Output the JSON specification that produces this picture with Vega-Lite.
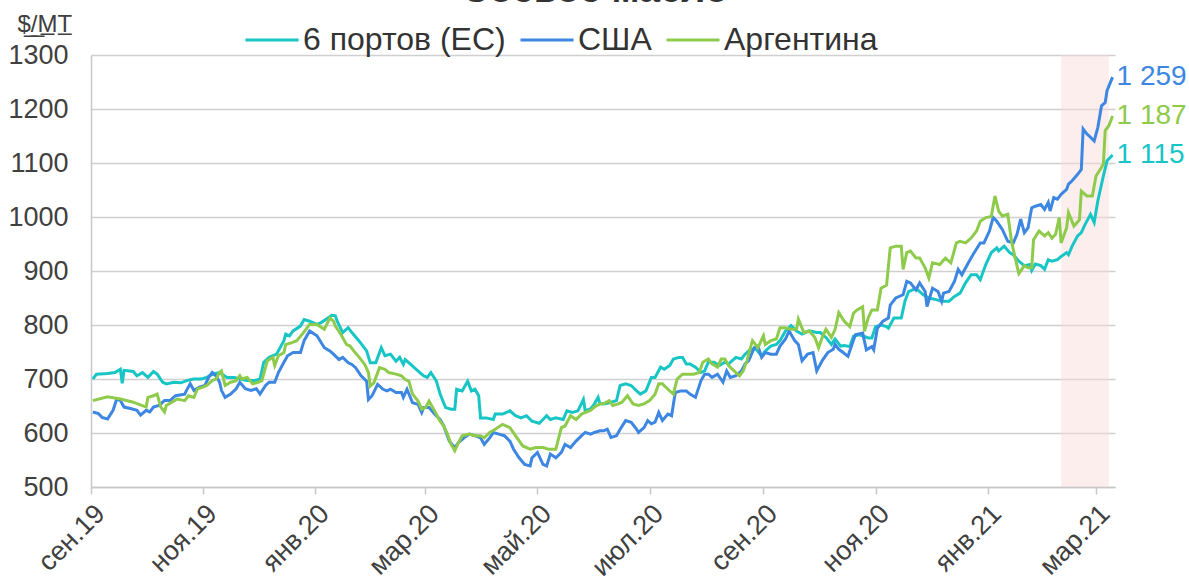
{
  "$schema": "https://vega.github.io/schema/vega-lite/v6.json",
  "width": 1024,
  "height": 432,
  "autosize": {"type": "none"},
  "padding": {"left": 91, "top": 55, "right": 74, "bottom": 96},
  "background": "white",
  "title": {"text": "Соевое масло", "fontSize": 38, "fontWeight": "bold", "color": "#333333", "anchor": "middle", "frame": "group", "dx": -8, "dy": -2, "offset": 0, "font": "Liberation Sans"},
  "config": {
    "font": "Liberation Sans",
    "view": {"stroke": null},
    "locale": {"number": {"decimal": ",", "thousands": " ", "grouping": [3], "currency": ["", ""]}}
  },
  "datasets": {
    "shade": [{"start": "2021-02-10", "end": "2021-03-08"}],
    "prices": [
{"date":"2019-09-02","series":"6 портов (ЕС)","price":700},{"date":"2019-09-04","series":"6 портов (ЕС)","price":709},{"date":"2019-09-10","series":"6 портов (ЕС)","price":710},{"date":"2019-09-14","series":"6 портов (ЕС)","price":712},{"date":"2019-09-17","series":"6 портов (ЕС)","price":718},{"date":"2019-09-18","series":"6 портов (ЕС)","price":692},{"date":"2019-09-19","series":"6 портов (ЕС)","price":716},{"date":"2019-09-24","series":"6 портов (ЕС)","price":714},{"date":"2019-09-26","series":"6 портов (ЕС)","price":706},{"date":"2019-09-29","series":"6 портов (ЕС)","price":712},
{"date":"2019-10-02","series":"6 портов (ЕС)","price":703},{"date":"2019-10-05","series":"6 портов (ЕС)","price":714},{"date":"2019-10-07","series":"6 портов (ЕС)","price":709},{"date":"2019-10-10","series":"6 портов (ЕС)","price":694},{"date":"2019-10-12","series":"6 портов (ЕС)","price":691},{"date":"2019-10-16","series":"6 портов (ЕС)","price":694},{"date":"2019-10-20","series":"6 портов (ЕС)","price":693},{"date":"2019-10-23","series":"6 портов (ЕС)","price":697},{"date":"2019-10-27","series":"6 портов (ЕС)","price":700},{"date":"2019-10-31","series":"6 портов (ЕС)","price":700},
{"date":"2019-11-03","series":"6 портов (ЕС)","price":703},{"date":"2019-11-07","series":"6 портов (ЕС)","price":710},{"date":"2019-11-10","series":"6 портов (ЕС)","price":712},{"date":"2019-11-14","series":"6 портов (ЕС)","price":703},{"date":"2019-11-18","series":"6 портов (ЕС)","price":703},{"date":"2019-11-21","series":"6 портов (ЕС)","price":700},{"date":"2019-11-25","series":"6 портов (ЕС)","price":697},{"date":"2019-11-29","series":"6 портов (ЕС)","price":697},
{"date":"2019-12-02","series":"6 портов (ЕС)","price":700},{"date":"2019-12-04","series":"6 портов (ЕС)","price":731},{"date":"2019-12-07","series":"6 портов (ЕС)","price":740},{"date":"2019-12-11","series":"6 портов (ЕС)","price":746},{"date":"2019-12-15","series":"6 портов (ЕС)","price":771},{"date":"2019-12-16","series":"6 портов (ЕС)","price":783},{"date":"2019-12-18","series":"6 портов (ЕС)","price":780},{"date":"2019-12-20","series":"6 портов (ЕС)","price":789},{"date":"2019-12-24","series":"6 портов (ЕС)","price":798},{"date":"2019-12-26","series":"6 портов (ЕС)","price":810},{"date":"2019-12-29","series":"6 портов (ЕС)","price":807},
{"date":"2020-01-02","series":"6 портов (ЕС)","price":801},{"date":"2020-01-04","series":"6 портов (ЕС)","price":804},{"date":"2020-01-08","series":"6 портов (ЕС)","price":813},{"date":"2020-01-10","series":"6 портов (ЕС)","price":818},{"date":"2020-01-12","series":"6 портов (ЕС)","price":817},{"date":"2020-01-13","series":"6 портов (ЕС)","price":807},{"date":"2020-01-16","series":"6 портов (ЕС)","price":786},{"date":"2020-01-19","series":"6 портов (ЕС)","price":795},{"date":"2020-01-21","series":"6 портов (ЕС)","price":786},{"date":"2020-01-25","series":"6 портов (ЕС)","price":770},{"date":"2020-01-29","series":"6 портов (ЕС)","price":752},{"date":"2020-01-31","series":"6 портов (ЕС)","price":730},
{"date":"2020-02-03","series":"6 портов (ЕС)","price":730},{"date":"2020-02-06","series":"6 портов (ЕС)","price":758},{"date":"2020-02-08","series":"6 портов (ЕС)","price":743},{"date":"2020-02-11","series":"6 портов (ЕС)","price":746},{"date":"2020-02-14","series":"6 портов (ЕС)","price":733},{"date":"2020-02-16","series":"6 портов (ЕС)","price":740},{"date":"2020-02-18","series":"6 портов (ЕС)","price":727},{"date":"2020-02-19","series":"6 портов (ЕС)","price":736},{"date":"2020-02-22","series":"6 портов (ЕС)","price":727},{"date":"2020-02-25","series":"6 портов (ЕС)","price":718},{"date":"2020-02-27","series":"6 портов (ЕС)","price":712},{"date":"2020-02-29","series":"6 портов (ЕС)","price":706},
{"date":"2020-03-02","series":"6 портов (ЕС)","price":703},{"date":"2020-03-04","series":"6 портов (ЕС)","price":712},{"date":"2020-03-07","series":"6 портов (ЕС)","price":696},{"date":"2020-03-09","series":"6 портов (ЕС)","price":672},{"date":"2020-03-12","series":"6 портов (ЕС)","price":647},{"date":"2020-03-15","series":"6 портов (ЕС)","price":644},{"date":"2020-03-17","series":"6 портов (ЕС)","price":644},{"date":"2020-03-18","series":"6 портов (ЕС)","price":681},{"date":"2020-03-21","series":"6 портов (ЕС)","price":678},{"date":"2020-03-24","series":"6 портов (ЕС)","price":696},{"date":"2020-03-26","series":"6 портов (ЕС)","price":678},{"date":"2020-03-28","series":"6 портов (ЕС)","price":681},{"date":"2020-03-30","series":"6 портов (ЕС)","price":669},{"date":"2020-03-31","series":"6 портов (ЕС)","price":628},
{"date":"2020-04-03","series":"6 портов (ЕС)","price":628},{"date":"2020-04-07","series":"6 портов (ЕС)","price":625},{"date":"2020-04-08","series":"6 портов (ЕС)","price":635},{"date":"2020-04-12","series":"6 портов (ЕС)","price":635},{"date":"2020-04-16","series":"6 портов (ЕС)","price":641},{"date":"2020-04-19","series":"6 портов (ЕС)","price":632},{"date":"2020-04-22","series":"6 портов (ЕС)","price":628},{"date":"2020-04-25","series":"6 портов (ЕС)","price":632},{"date":"2020-04-28","series":"6 портов (ЕС)","price":622},
{"date":"2020-05-02","series":"6 портов (ЕС)","price":618},{"date":"2020-05-04","series":"6 портов (ЕС)","price":625},{"date":"2020-05-06","series":"6 портов (ЕС)","price":632},{"date":"2020-05-08","series":"6 портов (ЕС)","price":625},{"date":"2020-05-11","series":"6 портов (ЕС)","price":628},{"date":"2020-05-15","series":"6 портов (ЕС)","price":625},{"date":"2020-05-17","series":"6 портов (ЕС)","price":641},{"date":"2020-05-20","series":"6 портов (ЕС)","price":638},{"date":"2020-05-23","series":"6 портов (ЕС)","price":641},{"date":"2020-05-26","series":"6 портов (ЕС)","price":662},{"date":"2020-05-27","series":"6 портов (ЕС)","price":641},{"date":"2020-05-30","series":"6 портов (ЕС)","price":645},
{"date":"2020-06-01","series":"6 портов (ЕС)","price":654},{"date":"2020-06-03","series":"6 портов (ЕС)","price":666},{"date":"2020-06-04","series":"6 портов (ЕС)","price":654},{"date":"2020-06-07","series":"6 портов (ЕС)","price":654},{"date":"2020-06-10","series":"6 портов (ЕС)","price":657},{"date":"2020-06-13","series":"6 портов (ЕС)","price":660},{"date":"2020-06-15","series":"6 портов (ЕС)","price":688},{"date":"2020-06-18","series":"6 портов (ЕС)","price":691},{"date":"2020-06-21","series":"6 портов (ЕС)","price":688},{"date":"2020-06-24","series":"6 портов (ЕС)","price":678},{"date":"2020-06-26","series":"6 портов (ЕС)","price":672},{"date":"2020-06-29","series":"6 портов (ЕС)","price":678},
{"date":"2020-07-02","series":"6 портов (ЕС)","price":703},{"date":"2020-07-04","series":"6 портов (ЕС)","price":703},{"date":"2020-07-07","series":"6 портов (ЕС)","price":722},{"date":"2020-07-09","series":"6 портов (ЕС)","price":718},{"date":"2020-07-12","series":"6 портов (ЕС)","price":725},{"date":"2020-07-14","series":"6 портов (ЕС)","price":737},{"date":"2020-07-17","series":"6 портов (ЕС)","price":740},{"date":"2020-07-19","series":"6 портов (ЕС)","price":740},{"date":"2020-07-21","series":"6 портов (ЕС)","price":728},{"date":"2020-07-23","series":"6 портов (ЕС)","price":728},{"date":"2020-07-26","series":"6 портов (ЕС)","price":722},{"date":"2020-07-29","series":"6 портов (ЕС)","price":712},{"date":"2020-07-31","series":"6 портов (ЕС)","price":715},
{"date":"2020-08-02","series":"6 портов (ЕС)","price":731},{"date":"2020-08-05","series":"6 портов (ЕС)","price":731},{"date":"2020-08-08","series":"6 портов (ЕС)","price":725},{"date":"2020-08-11","series":"6 портов (ЕС)","price":731},{"date":"2020-08-13","series":"6 портов (ЕС)","price":728},{"date":"2020-08-17","series":"6 портов (ЕС)","price":740},{"date":"2020-08-20","series":"6 портов (ЕС)","price":737},{"date":"2020-08-22","series":"6 портов (ЕС)","price":746},{"date":"2020-08-25","series":"6 портов (ЕС)","price":755},{"date":"2020-08-28","series":"6 портов (ЕС)","price":755},{"date":"2020-08-31","series":"6 портов (ЕС)","price":743},
{"date":"2020-09-02","series":"6 портов (ЕС)","price":752},{"date":"2020-09-05","series":"6 портов (ЕС)","price":761},{"date":"2020-09-08","series":"6 портов (ЕС)","price":764},{"date":"2020-09-10","series":"6 портов (ЕС)","price":771},{"date":"2020-09-13","series":"6 портов (ЕС)","price":789},{"date":"2020-09-16","series":"6 портов (ЕС)","price":799},{"date":"2020-09-19","series":"6 портов (ЕС)","price":789},{"date":"2020-09-22","series":"6 портов (ЕС)","price":783},{"date":"2020-09-26","series":"6 портов (ЕС)","price":789},{"date":"2020-09-30","series":"6 портов (ЕС)","price":786},
{"date":"2020-10-02","series":"6 портов (ЕС)","price":786},{"date":"2020-10-05","series":"6 портов (ЕС)","price":777},{"date":"2020-10-08","series":"6 портов (ЕС)","price":764},{"date":"2020-10-10","series":"6 портов (ЕС)","price":774},{"date":"2020-10-13","series":"6 портов (ЕС)","price":761},{"date":"2020-10-15","series":"6 портов (ЕС)","price":762},{"date":"2020-10-18","series":"6 портов (ЕС)","price":760},{"date":"2020-10-20","series":"6 портов (ЕС)","price":779},{"date":"2020-10-23","series":"6 портов (ЕС)","price":782},{"date":"2020-10-26","series":"6 портов (ЕС)","price":779},{"date":"2020-10-28","series":"6 портов (ЕС)","price":776},{"date":"2020-10-30","series":"6 портов (ЕС)","price":776},
{"date":"2020-11-01","series":"6 портов (ЕС)","price":797},{"date":"2020-11-04","series":"6 портов (ЕС)","price":800},{"date":"2020-11-07","series":"6 портов (ЕС)","price":797},{"date":"2020-11-08","series":"6 портов (ЕС)","price":794},{"date":"2020-11-11","series":"6 портов (ЕС)","price":813},{"date":"2020-11-15","series":"6 портов (ЕС)","price":813},{"date":"2020-11-17","series":"6 портов (ЕС)","price":844},{"date":"2020-11-19","series":"6 портов (ЕС)","price":862},{"date":"2020-11-23","series":"6 портов (ЕС)","price":868},{"date":"2020-11-27","series":"6 портов (ЕС)","price":856},{"date":"2020-11-30","series":"6 портов (ЕС)","price":850},
{"date":"2020-12-04","series":"6 портов (ЕС)","price":847},{"date":"2020-12-07","series":"6 портов (ЕС)","price":844},{"date":"2020-12-11","series":"6 портов (ЕС)","price":844},{"date":"2020-12-14","series":"6 портов (ЕС)","price":853},{"date":"2020-12-17","series":"6 портов (ЕС)","price":859},{"date":"2020-12-20","series":"6 портов (ЕС)","price":878},{"date":"2020-12-23","series":"6 портов (ЕС)","price":893},{"date":"2020-12-26","series":"6 портов (ЕС)","price":893},{"date":"2020-12-28","series":"6 портов (ЕС)","price":884},{"date":"2020-12-31","series":"6 портов (ЕС)","price":912},
{"date":"2021-01-03","series":"6 портов (ЕС)","price":934},{"date":"2021-01-06","series":"6 портов (ЕС)","price":943},{"date":"2021-01-07","series":"6 портов (ЕС)","price":937},{"date":"2021-01-10","series":"6 портов (ЕС)","price":946},{"date":"2021-01-13","series":"6 портов (ЕС)","price":934},{"date":"2021-01-15","series":"6 портов (ЕС)","price":930},{"date":"2021-01-18","series":"6 портов (ЕС)","price":918},{"date":"2021-01-21","series":"6 портов (ЕС)","price":910},{"date":"2021-01-24","series":"6 портов (ЕС)","price":912},{"date":"2021-01-25","series":"6 портов (ЕС)","price":901},{"date":"2021-01-27","series":"6 портов (ЕС)","price":913},{"date":"2021-01-30","series":"6 портов (ЕС)","price":910},
{"date":"2021-02-01","series":"6 портов (ЕС)","price":903},{"date":"2021-02-03","series":"6 портов (ЕС)","price":921},{"date":"2021-02-05","series":"6 портов (ЕС)","price":918},{"date":"2021-02-08","series":"6 портов (ЕС)","price":921},{"date":"2021-02-10","series":"6 портов (ЕС)","price":927},{"date":"2021-02-13","series":"6 портов (ЕС)","price":934},{"date":"2021-02-14","series":"6 портов (ЕС)","price":930},{"date":"2021-02-16","series":"6 портов (ЕС)","price":946},{"date":"2021-02-19","series":"6 портов (ЕС)","price":965},{"date":"2021-02-21","series":"6 портов (ЕС)","price":971},{"date":"2021-02-23","series":"6 портов (ЕС)","price":986},{"date":"2021-02-26","series":"6 портов (ЕС)","price":1005},{"date":"2021-02-28","series":"6 портов (ЕС)","price":990},
{"date":"2021-03-02","series":"6 портов (ЕС)","price":1030},{"date":"2021-03-05","series":"6 портов (ЕС)","price":1076},{"date":"2021-03-07","series":"6 портов (ЕС)","price":1104},{"date":"2021-03-10","series":"6 портов (ЕС)","price":1115},

{"date":"2019-09-02","series":"США","price":639},{"date":"2019-09-05","series":"США","price":636},{"date":"2019-09-07","series":"США","price":629},{"date":"2019-09-10","series":"США","price":626},{"date":"2019-09-13","series":"США","price":642},{"date":"2019-09-15","series":"США","price":663},{"date":"2019-09-17","series":"США","price":660},{"date":"2019-09-19","series":"США","price":648},{"date":"2019-09-23","series":"США","price":645},{"date":"2019-09-26","series":"США","price":642},{"date":"2019-09-28","series":"США","price":633},
{"date":"2019-10-01","series":"США","price":642},{"date":"2019-10-03","series":"США","price":639},{"date":"2019-10-05","series":"США","price":648},{"date":"2019-10-08","series":"США","price":651},{"date":"2019-10-11","series":"США","price":660},{"date":"2019-10-14","series":"США","price":660},{"date":"2019-10-17","series":"США","price":669},{"date":"2019-10-22","series":"США","price":672},{"date":"2019-10-23","series":"США","price":679},{"date":"2019-10-25","series":"США","price":691},{"date":"2019-10-27","series":"США","price":679},{"date":"2019-10-30","series":"США","price":685},
{"date":"2019-11-02","series":"США","price":688},{"date":"2019-11-04","series":"США","price":703},{"date":"2019-11-06","series":"США","price":712},{"date":"2019-11-08","series":"США","price":706},{"date":"2019-11-10","series":"США","price":694},{"date":"2019-11-11","series":"США","price":679},{"date":"2019-11-13","series":"США","price":666},{"date":"2019-11-16","series":"США","price":672},{"date":"2019-11-19","series":"США","price":682},{"date":"2019-11-21","series":"США","price":694},{"date":"2019-11-24","series":"США","price":682},{"date":"2019-11-27","series":"США","price":679},{"date":"2019-11-30","series":"США","price":682},
{"date":"2019-12-02","series":"США","price":672},{"date":"2019-12-05","series":"США","price":688},{"date":"2019-12-07","series":"США","price":694},{"date":"2019-12-10","series":"США","price":694},{"date":"2019-12-12","series":"США","price":712},{"date":"2019-12-15","series":"США","price":731},{"date":"2019-12-17","series":"США","price":743},{"date":"2019-12-20","series":"США","price":749},{"date":"2019-12-24","series":"США","price":749},{"date":"2019-12-26","series":"США","price":771},{"date":"2019-12-29","series":"США","price":789},
{"date":"2020-01-02","series":"США","price":780},{"date":"2020-01-06","series":"США","price":758},{"date":"2020-01-09","series":"США","price":752},{"date":"2020-01-11","series":"США","price":746},{"date":"2020-01-14","series":"США","price":736},{"date":"2020-01-16","series":"США","price":740},{"date":"2020-01-19","series":"США","price":730},{"date":"2020-01-21","series":"США","price":727},{"date":"2020-01-23","series":"США","price":721},{"date":"2020-01-26","series":"США","price":706},{"date":"2020-01-29","series":"США","price":696},{"date":"2020-01-30","series":"США","price":662},
{"date":"2020-02-01","series":"США","price":669},{"date":"2020-02-04","series":"США","price":690},{"date":"2020-02-07","series":"США","price":681},{"date":"2020-02-09","series":"США","price":678},{"date":"2020-02-11","series":"США","price":681},{"date":"2020-02-14","series":"США","price":675},{"date":"2020-02-17","series":"США","price":675},{"date":"2020-02-18","series":"США","price":666},{"date":"2020-02-20","series":"США","price":681},{"date":"2020-02-23","series":"США","price":656},{"date":"2020-02-26","series":"США","price":653},{"date":"2020-02-28","series":"США","price":638},{"date":"2020-02-29","series":"США","price":647},
{"date":"2020-03-03","series":"США","price":647},{"date":"2020-03-06","series":"США","price":635},{"date":"2020-03-09","series":"США","price":625},{"date":"2020-03-11","series":"США","price":613},{"date":"2020-03-14","series":"США","price":585},{"date":"2020-03-17","series":"США","price":573},{"date":"2020-03-19","series":"США","price":582},{"date":"2020-03-22","series":"США","price":591},{"date":"2020-03-25","series":"США","price":598},{"date":"2020-03-28","series":"США","price":595},{"date":"2020-03-31","series":"США","price":591},
{"date":"2020-04-02","series":"США","price":579},{"date":"2020-04-05","series":"США","price":591},{"date":"2020-04-07","series":"США","price":601},{"date":"2020-04-10","series":"США","price":598},{"date":"2020-04-13","series":"США","price":595},{"date":"2020-04-16","series":"США","price":585},{"date":"2020-04-18","series":"США","price":570},{"date":"2020-04-21","series":"США","price":554},{"date":"2020-04-24","series":"США","price":542},{"date":"2020-04-27","series":"США","price":539},{"date":"2020-04-28","series":"США","price":554},
{"date":"2020-05-01","series":"США","price":564},{"date":"2020-05-04","series":"США","price":542},{"date":"2020-05-06","series":"США","price":539},{"date":"2020-05-08","series":"США","price":561},{"date":"2020-05-11","series":"США","price":554},{"date":"2020-05-14","series":"США","price":564},{"date":"2020-05-16","series":"США","price":579},{"date":"2020-05-19","series":"США","price":573},{"date":"2020-05-22","series":"США","price":585},{"date":"2020-05-25","series":"США","price":595},{"date":"2020-05-27","series":"США","price":601},{"date":"2020-05-30","series":"США","price":598},
{"date":"2020-06-01","series":"США","price":601},{"date":"2020-06-04","series":"США","price":604},{"date":"2020-06-06","series":"США","price":604},{"date":"2020-06-08","series":"США","price":607},{"date":"2020-06-10","series":"США","price":592},{"date":"2020-06-13","series":"США","price":595},{"date":"2020-06-15","series":"США","price":607},{"date":"2020-06-18","series":"США","price":623},{"date":"2020-06-21","series":"США","price":620},{"date":"2020-06-24","series":"США","price":607},{"date":"2020-06-25","series":"США","price":601},{"date":"2020-06-28","series":"США","price":610},{"date":"2020-06-30","series":"США","price":623},
{"date":"2020-07-02","series":"США","price":617},{"date":"2020-07-04","series":"США","price":620},{"date":"2020-07-06","series":"США","price":638},{"date":"2020-07-08","series":"США","price":623},{"date":"2020-07-11","series":"США","price":635},{"date":"2020-07-13","series":"США","price":632},{"date":"2020-07-15","series":"США","price":675},{"date":"2020-07-18","series":"США","price":678},{"date":"2020-07-21","series":"США","price":678},{"date":"2020-07-23","series":"США","price":672},{"date":"2020-07-26","series":"США","price":666},{"date":"2020-07-29","series":"США","price":697},{"date":"2020-07-31","series":"США","price":709},
{"date":"2020-08-02","series":"США","price":709},{"date":"2020-08-04","series":"США","price":703},{"date":"2020-08-07","series":"США","price":709},{"date":"2020-08-10","series":"США","price":694},{"date":"2020-08-12","series":"США","price":715},{"date":"2020-08-14","series":"США","price":703},{"date":"2020-08-17","series":"США","price":706},{"date":"2020-08-20","series":"США","price":715},{"date":"2020-08-22","series":"США","price":728},{"date":"2020-08-24","series":"США","price":734},{"date":"2020-08-27","series":"США","price":758},{"date":"2020-08-29","series":"США","price":761},{"date":"2020-08-31","series":"США","price":740},
{"date":"2020-09-02","series":"США","price":749},{"date":"2020-09-05","series":"США","price":746},{"date":"2020-09-08","series":"США","price":746},{"date":"2020-09-10","series":"США","price":761},{"date":"2020-09-13","series":"США","price":774},{"date":"2020-09-15","series":"США","price":789},{"date":"2020-09-18","series":"США","price":771},{"date":"2020-09-20","series":"США","price":764},{"date":"2020-09-22","series":"США","price":734},{"date":"2020-09-25","series":"США","price":746},{"date":"2020-09-28","series":"США","price":749},{"date":"2020-09-30","series":"США","price":715},
{"date":"2020-10-03","series":"США","price":734},{"date":"2020-10-06","series":"США","price":749},{"date":"2020-10-09","series":"США","price":755},{"date":"2020-10-10","series":"США","price":764},{"date":"2020-10-12","series":"США","price":755},{"date":"2020-10-14","series":"США","price":750},{"date":"2020-10-17","series":"США","price":742},{"date":"2020-10-21","series":"США","price":782},{"date":"2020-10-25","series":"США","price":785},{"date":"2020-10-27","series":"США","price":754},{"date":"2020-10-30","series":"США","price":760},{"date":"2020-10-31","series":"США","price":754},
{"date":"2020-11-02","series":"США","price":794},{"date":"2020-11-05","series":"США","price":807},{"date":"2020-11-08","series":"США","price":813},{"date":"2020-11-09","series":"США","price":837},{"date":"2020-11-12","series":"США","price":850},{"date":"2020-11-16","series":"США","price":856},{"date":"2020-11-18","series":"США","price":881},{"date":"2020-11-20","series":"США","price":878},{"date":"2020-11-23","series":"США","price":865},{"date":"2020-11-25","series":"США","price":878},{"date":"2020-11-28","series":"США","price":862},{"date":"2020-11-29","series":"США","price":834},
{"date":"2020-12-02","series":"США","price":868},{"date":"2020-12-05","series":"США","price":862},{"date":"2020-12-07","series":"США","price":844},{"date":"2020-12-08","series":"США","price":859},{"date":"2020-12-11","series":"США","price":862},{"date":"2020-12-14","series":"США","price":881},{"date":"2020-12-16","series":"США","price":903},{"date":"2020-12-18","series":"США","price":893},{"date":"2020-12-21","series":"США","price":912},{"date":"2020-12-24","series":"США","price":930},{"date":"2020-12-28","series":"США","price":952},{"date":"2020-12-30","series":"США","price":952},
{"date":"2021-01-02","series":"США","price":974},{"date":"2021-01-04","series":"США","price":999},{"date":"2021-01-06","series":"США","price":992},{"date":"2021-01-09","series":"США","price":977},{"date":"2021-01-12","series":"США","price":955},{"date":"2021-01-15","series":"США","price":952},{"date":"2021-01-17","series":"США","price":968},{"date":"2021-01-19","series":"США","price":996},{"date":"2021-01-21","series":"США","price":971},{"date":"2021-01-23","series":"США","price":980},{"date":"2021-01-25","series":"США","price":1017},{"date":"2021-01-27","series":"США","price":1020},{"date":"2021-01-30","series":"США","price":1023},
{"date":"2021-02-01","series":"США","price":1014},{"date":"2021-02-03","series":"США","price":1027},{"date":"2021-02-04","series":"США","price":1011},{"date":"2021-02-06","series":"США","price":1036},{"date":"2021-02-08","series":"США","price":1033},{"date":"2021-02-10","series":"США","price":1042},{"date":"2021-02-13","series":"США","price":1051},{"date":"2021-02-14","series":"США","price":1061},{"date":"2021-02-16","series":"США","price":1067},{"date":"2021-02-19","series":"США","price":1079},{"date":"2021-02-21","series":"США","price":1088},{"date":"2021-02-22","series":"США","price":1163},{"date":"2021-02-24","series":"США","price":1154},{"date":"2021-02-28","series":"США","price":1141},
{"date":"2021-03-02","series":"США","price":1166},{"date":"2021-03-04","series":"США","price":1206},{"date":"2021-03-06","series":"США","price":1212},{"date":"2021-03-07","series":"США","price":1234},{"date":"2021-03-10","series":"США","price":1259},

{"date":"2019-09-02","series":"Аргентина","price":660},{"date":"2019-09-10","series":"Аргентина","price":667},{"date":"2019-09-17","series":"Аргентина","price":663},{"date":"2019-09-24","series":"Аргентина","price":657},
{"date":"2019-10-01","series":"Аргентина","price":648},{"date":"2019-10-02","series":"Аргентина","price":666},{"date":"2019-10-05","series":"Аргентина","price":669},{"date":"2019-10-07","series":"Аргентина","price":672},{"date":"2019-10-09","series":"Аргентина","price":648},{"date":"2019-10-11","series":"Аргентина","price":639},{"date":"2019-10-12","series":"Аргентина","price":651},{"date":"2019-10-15","series":"Аргентина","price":657},{"date":"2019-10-18","series":"Аргентина","price":663},{"date":"2019-10-22","series":"Аргентина","price":660},{"date":"2019-10-24","series":"Аргентина","price":669},{"date":"2019-10-27","series":"Аргентина","price":666},{"date":"2019-10-29","series":"Аргентина","price":682},
{"date":"2019-11-01","series":"Аргентина","price":685},{"date":"2019-11-03","series":"Аргентина","price":688},{"date":"2019-11-06","series":"Аргентина","price":697},{"date":"2019-11-08","series":"Аргентина","price":700},{"date":"2019-11-10","series":"Аргентина","price":712},{"date":"2019-11-11","series":"Аргентина","price":715},{"date":"2019-11-13","series":"Аргентина","price":688},{"date":"2019-11-16","series":"Аргентина","price":694},{"date":"2019-11-19","series":"Аргентина","price":697},{"date":"2019-11-21","series":"Аргентина","price":706},{"date":"2019-11-22","series":"Аргентина","price":700},{"date":"2019-11-25","series":"Аргентина","price":703},{"date":"2019-11-28","series":"Аргентина","price":691},
{"date":"2019-12-01","series":"Аргентина","price":694},{"date":"2019-12-03","series":"Аргентина","price":697},{"date":"2019-12-06","series":"Аргентина","price":734},{"date":"2019-12-09","series":"Аргентина","price":740},{"date":"2019-12-10","series":"Аргентина","price":725},{"date":"2019-12-12","series":"Аргентина","price":743},{"date":"2019-12-15","series":"Аргентина","price":749},{"date":"2019-12-16","series":"Аргентина","price":764},{"date":"2019-12-19","series":"Аргентина","price":767},{"date":"2019-12-22","series":"Аргентина","price":771},{"date":"2019-12-25","series":"Аргентина","price":783},{"date":"2019-12-29","series":"Аргентина","price":801},
{"date":"2020-01-02","series":"Аргентина","price":801},{"date":"2020-01-06","series":"Аргентина","price":792},{"date":"2020-01-09","series":"Аргентина","price":813},{"date":"2020-01-11","series":"Аргентина","price":807},{"date":"2020-01-12","series":"Аргентина","price":798},{"date":"2020-01-15","series":"Аргентина","price":783},{"date":"2020-01-18","series":"Аргентина","price":764},{"date":"2020-01-20","series":"Аргентина","price":761},{"date":"2020-01-22","series":"Аргентина","price":752},{"date":"2020-01-25","series":"Аргентина","price":740},{"date":"2020-01-28","series":"Аргентина","price":727},{"date":"2020-01-30","series":"Аргентина","price":712},{"date":"2020-01-31","series":"Аргентина","price":687},
{"date":"2020-02-02","series":"Аргентина","price":693},{"date":"2020-02-05","series":"Аргентина","price":721},{"date":"2020-02-08","series":"Аргентина","price":718},{"date":"2020-02-10","series":"Аргентина","price":712},{"date":"2020-02-14","series":"Аргентина","price":709},{"date":"2020-02-17","series":"Аргентина","price":706},{"date":"2020-02-19","series":"Аргентина","price":699},{"date":"2020-02-21","series":"Аргентина","price":696},{"date":"2020-02-23","series":"Аргентина","price":672},{"date":"2020-02-26","series":"Аргентина","price":659},{"date":"2020-02-28","series":"Аргентина","price":644},
{"date":"2020-03-01","series":"Аргентина","price":647},{"date":"2020-03-03","series":"Аргентина","price":659},{"date":"2020-03-06","series":"Аргентина","price":641},{"date":"2020-03-09","series":"Аргентина","price":622},{"date":"2020-03-11","series":"Аргентина","price":613},{"date":"2020-03-13","series":"Аргентина","price":598},{"date":"2020-03-15","series":"Аргентина","price":579},{"date":"2020-03-17","series":"Аргентина","price":567},{"date":"2020-03-19","series":"Аргентина","price":582},{"date":"2020-03-21","series":"Аргентина","price":595},{"date":"2020-03-25","series":"Аргентина","price":598},{"date":"2020-03-28","series":"Аргентина","price":595},{"date":"2020-03-31","series":"Аргентина","price":595},
{"date":"2020-04-02","series":"Аргентина","price":591},{"date":"2020-04-05","series":"Аргентина","price":601},{"date":"2020-04-08","series":"Аргентина","price":607},{"date":"2020-04-12","series":"Аргентина","price":616},{"date":"2020-04-16","series":"Аргентина","price":610},{"date":"2020-04-19","series":"Аргентина","price":595},{"date":"2020-04-23","series":"Аргентина","price":576},{"date":"2020-04-27","series":"Аргентина","price":570},{"date":"2020-04-30","series":"Аргентина","price":573},
{"date":"2020-05-04","series":"Аргентина","price":573},{"date":"2020-05-07","series":"Аргентина","price":570},{"date":"2020-05-11","series":"Аргентина","price":570},{"date":"2020-05-14","series":"Аргентина","price":610},{"date":"2020-05-16","series":"Аргентина","price":613},{"date":"2020-05-19","series":"Аргентина","price":632},{"date":"2020-05-22","series":"Аргентина","price":625},{"date":"2020-05-25","series":"Аргентина","price":635},{"date":"2020-05-27","series":"Аргентина","price":638},{"date":"2020-05-30","series":"Аргентина","price":642},
{"date":"2020-06-01","series":"Аргентина","price":648},{"date":"2020-06-04","series":"Аргентина","price":654},{"date":"2020-06-06","series":"Аргентина","price":654},{"date":"2020-06-09","series":"Аргентина","price":660},{"date":"2020-06-11","series":"Аргентина","price":651},{"date":"2020-06-14","series":"Аргентина","price":654},{"date":"2020-06-16","series":"Аргентина","price":657},{"date":"2020-06-19","series":"Аргентина","price":669},{"date":"2020-06-22","series":"Аргентина","price":654},{"date":"2020-06-25","series":"Аргентина","price":651},{"date":"2020-06-28","series":"Аргентина","price":654},
{"date":"2020-07-01","series":"Аргентина","price":660},{"date":"2020-07-04","series":"Аргентина","price":672},{"date":"2020-07-06","series":"Аргентина","price":691},{"date":"2020-07-08","series":"Аргентина","price":691},{"date":"2020-07-11","series":"Аргентина","price":681},{"date":"2020-07-14","series":"Аргентина","price":672},{"date":"2020-07-16","series":"Аргентина","price":700},{"date":"2020-07-19","series":"Аргентина","price":709},{"date":"2020-07-22","series":"Аргентина","price":709},{"date":"2020-07-25","series":"Аргентина","price":709},{"date":"2020-07-28","series":"Аргентина","price":712},{"date":"2020-07-30","series":"Аргентина","price":731},
{"date":"2020-08-02","series":"Аргентина","price":737},{"date":"2020-08-04","series":"Аргентина","price":728},{"date":"2020-08-07","series":"Аргентина","price":722},{"date":"2020-08-09","series":"Аргентина","price":737},{"date":"2020-08-11","series":"Аргентина","price":737},{"date":"2020-08-13","series":"Аргентина","price":725},{"date":"2020-08-16","series":"Аргентина","price":715},{"date":"2020-08-19","series":"Аргентина","price":706},{"date":"2020-08-21","series":"Аргентина","price":715},{"date":"2020-08-23","series":"Аргентина","price":734},{"date":"2020-08-26","series":"Аргентина","price":771},{"date":"2020-08-29","series":"Аргентина","price":758},
{"date":"2020-09-01","series":"Аргентина","price":780},{"date":"2020-09-02","series":"Аргентина","price":764},{"date":"2020-09-05","series":"Аргентина","price":771},{"date":"2020-09-08","series":"Аргентина","price":774},{"date":"2020-09-10","series":"Аргентина","price":795},{"date":"2020-09-13","series":"Аргентина","price":795},{"date":"2020-09-16","series":"Аргентина","price":792},{"date":"2020-09-19","series":"Аргентина","price":792},{"date":"2020-09-20","series":"Аргентина","price":811},{"date":"2020-09-23","series":"Аргентина","price":786},{"date":"2020-09-26","series":"Аргентина","price":789},{"date":"2020-09-29","series":"Аргентина","price":777},
{"date":"2020-10-01","series":"Аргентина","price":758},{"date":"2020-10-03","series":"Аргентина","price":777},{"date":"2020-10-05","series":"Аргентина","price":792},{"date":"2020-10-08","series":"Аргентина","price":777},{"date":"2020-10-10","series":"Аргентина","price":792},{"date":"2020-10-12","series":"Аргентина","price":823},{"date":"2020-10-15","series":"Аргентина","price":807},{"date":"2020-10-18","series":"Аргентина","price":797},{"date":"2020-10-20","series":"Аргентина","price":822},{"date":"2020-10-22","series":"Аргентина","price":828},{"date":"2020-10-25","series":"Аргентина","price":834},{"date":"2020-10-26","series":"Аргентина","price":788},{"date":"2020-10-28","series":"Аргентина","price":813},{"date":"2020-10-30","series":"Аргентина","price":828},
{"date":"2020-11-02","series":"Аргентина","price":828},{"date":"2020-11-04","series":"Аргентина","price":868},{"date":"2020-11-07","series":"Аргентина","price":874},{"date":"2020-11-09","series":"Аргентина","price":943},{"date":"2020-11-12","series":"Аргентина","price":946},{"date":"2020-11-15","series":"Аргентина","price":946},{"date":"2020-11-16","series":"Аргентина","price":903},{"date":"2020-11-18","series":"Аргентина","price":934},{"date":"2020-11-20","series":"Аргентина","price":937},{"date":"2020-11-23","series":"Аргентина","price":924},{"date":"2020-11-25","series":"Аргентина","price":924},{"date":"2020-11-28","series":"Аргентина","price":906},{"date":"2020-11-30","series":"Аргентина","price":887},
{"date":"2020-12-02","series":"Аргентина","price":915},{"date":"2020-12-06","series":"Аргентина","price":912},{"date":"2020-12-09","series":"Аргентина","price":924},{"date":"2020-12-12","series":"Аргентина","price":915},{"date":"2020-12-15","series":"Аргентина","price":952},{"date":"2020-12-17","series":"Аргентина","price":955},{"date":"2020-12-20","series":"Аргентина","price":952},{"date":"2020-12-23","series":"Аргентина","price":961},{"date":"2020-12-26","series":"Аргентина","price":974},{"date":"2020-12-28","series":"Аргентина","price":992},{"date":"2020-12-31","series":"Аргентина","price":999},
{"date":"2021-01-03","series":"Аргентина","price":1001},{"date":"2021-01-05","series":"Аргентина","price":1039},{"date":"2021-01-07","series":"Аргентина","price":1011},{"date":"2021-01-09","series":"Аргентина","price":1002},{"date":"2021-01-12","series":"Аргентина","price":1005},{"date":"2021-01-14","series":"Аргентина","price":955},{"date":"2021-01-16","series":"Аргентина","price":924},{"date":"2021-01-18","series":"Аргентина","price":895},{"date":"2021-01-21","series":"Аргентина","price":910},{"date":"2021-01-23","series":"Аргентина","price":906},{"date":"2021-01-25","series":"Аргентина","price":906},{"date":"2021-01-26","series":"Аргентина","price":958},{"date":"2021-01-29","series":"Аргентина","price":974},
{"date":"2021-02-01","series":"Аргентина","price":965},{"date":"2021-02-03","series":"Аргентина","price":971},{"date":"2021-02-05","series":"Аргентина","price":961},{"date":"2021-02-07","series":"Аргентина","price":968},{"date":"2021-02-09","series":"Аргентина","price":999},{"date":"2021-02-10","series":"Аргентина","price":952},{"date":"2021-02-13","series":"Аргентина","price":980},{"date":"2021-02-14","series":"Аргентина","price":1008},{"date":"2021-02-17","series":"Аргентина","price":983},{"date":"2021-02-20","series":"Аргентина","price":995},{"date":"2021-02-21","series":"Аргентина","price":1048},{"date":"2021-02-24","series":"Аргентина","price":1039},{"date":"2021-02-27","series":"Аргентина","price":1039},
{"date":"2021-03-01","series":"Аргентина","price":1076},{"date":"2021-03-04","series":"Аргентина","price":1092},{"date":"2021-03-05","series":"Аргентина","price":1098},{"date":"2021-03-06","series":"Аргентина","price":1160},{"date":"2021-03-08","series":"Аргентина","price":1169},{"date":"2021-03-10","series":"Аргентина","price":1187}
    ]
  },
  "layer": [
    {
      "data": {"name": "shade"},
      "mark": {"type": "rect", "color": "#fbdada", "opacity": 0.45},
      "encoding": {
        "x": {"field": "start", "type": "temporal"},
        "x2": {"field": "end"}
      }
    },
    {
      "data": {"name": "prices"},
      "mark": {"type": "line", "strokeWidth": 3, "interpolate": "linear"},
      "encoding": {
        "x": {
          "field": "date", "type": "temporal", "title": null,
          "scale": {"domain": [{"year": 2019, "month": 9, "date": 1}, {"year": 2021, "month": 3, "date": 11, "hours": 8}]},
          "axis": {
            "values": [
              {"year": 2019, "month": 9, "date": 1}, {"year": 2019, "month": 11, "date": 1},
              {"year": 2020, "month": 1, "date": 1}, {"year": 2020, "month": 3, "date": 1},
              {"year": 2020, "month": 5, "date": 1}, {"year": 2020, "month": 7, "date": 1},
              {"year": 2020, "month": 9, "date": 1}, {"year": 2020, "month": 11, "date": 1},
              {"year": 2021, "month": 1, "date": 1}, {"year": 2021, "month": 3, "date": 1}
            ],
            "labelExpr": "['янв','фев','мар','апр','май','июн','июл','авг','сен','окт','ноя','дек'][month(datum.value)] + '.' + timeFormat(datum.value, '%y')",
            "labelAngle": -45, "labelAlign": "right", "labelBaseline": "top",
            "labelFontSize": 27, "labelColor": "#404040", "labelPadding": 6, "labelDx": 3, "labelFont": "Liberation Sans",
            "grid": false, "domainColor": "#c8c8c8", "domainWidth": 1.5,
            "tickColor": "#c8c8c8", "tickWidth": 1.5, "tickSize": 7, "labelOverlap": false, "labelFlush": false
          }
        },
        "y": {
          "field": "price", "type": "quantitative",
          "scale": {"domain": [500, 1300], "nice": false, "zero": false},
          "axis": {
            "values": [500, 600, 700, 800, 900, 1000, 1100, 1200, 1300],
            "format": "d", "ticks": false, "labelPadding": 23,
            "labelFontSize": 27, "labelColor": "#404040", "labelFont": "Liberation Sans",
            "grid": true, "gridColor": "#d0d0d0", "gridWidth": 1.5,
            "domainColor": "#c8c8c8", "domainWidth": 1.5,
            "title": "$\u0332/\u0332M\u0332T\u0332", "titleAngle": 0, "titleAlign": "left", "titleBaseline": "alphabetic",
            "titleX": -74, "titleY": -24, "titleFontSize": 24, "titleFontWeight": "normal", "titleColor": "#404040", "titleFont": "Liberation Sans"
          }
        },
        "color": {
          "field": "series", "type": "nominal",
          "scale": {"domain": ["6 портов (ЕС)", "США", "Аргентина"], "range": ["#17c5c5", "#3d87e2", "#8ecb4b"]},
          "legend": {
            "title": null, "orient": "none", "legendX": 153, "legendY": -43, "direction": "horizontal",
            "symbolType": "stroke", "symbolSize": 2809, "symbolStrokeWidth": 3,
            "labelFontSize": 32, "labelColor": "#333333", "labelOffset": 3, "columnPadding": 8, "labelLimit": 400, "labelFont": "Liberation Sans"
          }
        }
      }
    },
    {
      "data": {"name": "prices"},
      "transform": [
        {"joinaggregate": [{"op": "max", "field": "date", "as": "last"}], "groupby": ["series"]},
        {"filter": "+datum.date == +datum.last"}
      ],
      "mark": {"type": "text", "align": "left", "baseline": "middle", "dx": 4, "fontSize": 28, "font": "Liberation Sans"},
      "encoding": {
        "x": {"field": "date", "type": "temporal"},
        "y": {"field": "price", "type": "quantitative"},
        "text": {"field": "price", "type": "quantitative", "format": ",d"},
        "color": {"field": "series", "type": "nominal", "legend": null}
      }
    }
  ]
}
